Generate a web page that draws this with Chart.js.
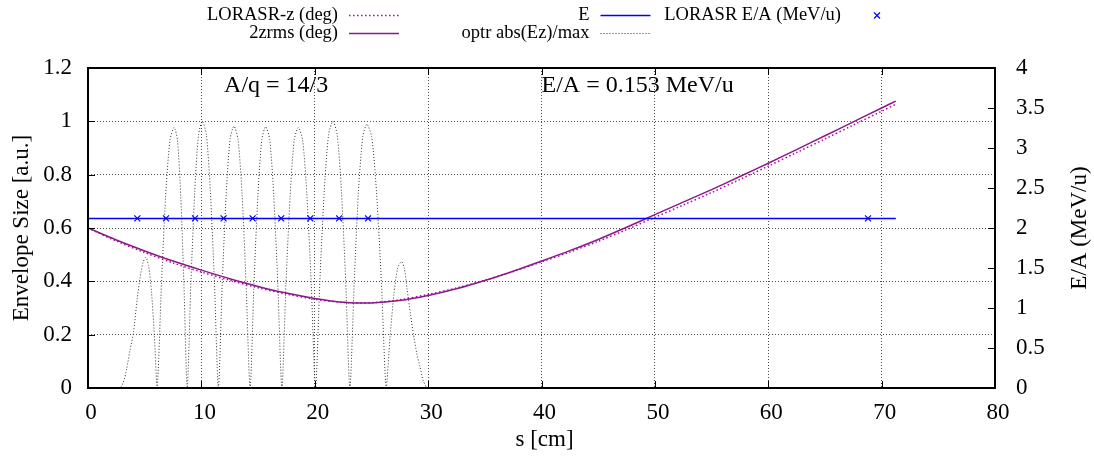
<!DOCTYPE html>
<html>
<head>
<meta charset="utf-8">
<script src="https://cdn.jsdelivr.net/npm/chart.js@4/dist/chart.umd.min.js"></script>
<style>
  html, body { margin: 0; padding: 0; background: #fff; }
  canvas { display: block; }
</style>
</head>
<body>
<canvas id="envChart" width="1094" height="464"></canvas>
<script>
// Datos
const envS = [0, 2.5, 5, 7.5, 10, 12.5, 15, 17.5, 20, 22.5, 25, 27.5, 30, 32.5, 35, 37.5, 40, 42.5, 45, 47.5, 50, 52.5, 55, 57.5, 60, 62.5, 65, 67.5, 70, 71.25]
const zrms = [0.600, 0.555, 0.514, 0.476, 0.442, 0.410, 0.381, 0.356, 0.336, 0.322, 0.319, 0.328, 0.347, 0.372, 0.403, 0.438, 0.476, 0.515, 0.557, 0.603, 0.650, 0.697, 0.744, 0.793, 0.843, 0.894, 0.946, 0.998, 1.050, 1.076]
const lorasrZ = [0.600, 0.551, 0.508, 0.469, 0.435, 0.404, 0.376, 0.352, 0.333, 0.321, 0.320, 0.331, 0.351, 0.375, 0.404, 0.437, 0.473, 0.510, 0.550, 0.594, 0.640, 0.686, 0.733, 0.782, 0.832, 0.883, 0.934, 0.986, 1.038, 1.064]

const eS = [0, 71.25]
const eVal = [2.12, 2.12]

const crossS = [4.35, 6.88, 9.44, 11.96, 14.52, 17.04, 19.6, 22.15, 24.7, 68.8]
const crossVal = [2.12, 2.12, 2.12, 2.12, 2.12, 2.12, 2.12, 2.12, 2.12, 2.12]

const fieldS = [0, 2.8, 3.1, 3.4, 3.7, 4.0, 4.33, 4.6, 4.85, 5.09, 5.34, 5.6, 5.85, 6.1,
  6.48, 6.85, 7.23, 7.6, 7.89, 8.18, 8.46, 8.75,
  9.08, 9.42, 9.75, 10.08, 10.44, 10.79, 11.15, 11.5,
  11.84, 12.19, 12.53, 12.87, 13.23, 13.59, 13.94, 14.3,
  14.64, 14.99, 15.33, 15.67, 16.03, 16.38, 16.74, 17.1,
  17.46, 17.83, 18.19, 18.55, 18.93, 19.31, 19.69, 20.07,
  20.45, 20.84, 21.22, 21.6, 21.98, 22.35, 22.73, 23.1,
  23.48, 23.85, 24.23, 24.6, 25.03, 25.45, 25.88, 26.3,
  26.64, 26.98, 27.32, 27.66, 27.9, 28.15, 28.45, 28.69, 29.0, 29.28, 29.55, 29.86]
const fieldVal = [0, 0, 0.02, 0.07, 0.14, 0.205, 0.33, 0.415, 0.47, 0.49, 0.46, 0.36, 0.2, 0,
  0.39, 0.72, 0.93, 0.977, 0.93, 0.72, 0.39, 0,
  0.40, 0.74, 0.95, 1.0, 0.95, 0.74, 0.40, 0,
  0.393, 0.727, 0.933, 0.982, 0.933, 0.727, 0.393, 0,
  0.392, 0.725, 0.931, 0.98, 0.931, 0.725, 0.392, 0,
  0.39, 0.72, 0.93, 0.977, 0.93, 0.72, 0.39, 0,
  0.40, 0.74, 0.95, 1.0, 0.95, 0.74, 0.40, 0,
  0.396, 0.733, 0.94, 0.99, 0.94, 0.733, 0.396, 0,
  0.19, 0.35, 0.45, 0.474, 0.45, 0.37, 0.275, 0.205, 0.13, 0.08, 0.03, 0]

const xTicks = [0, 10, 20, 30, 40, 50, 60, 70, 80]
const leftTicks = [0, 0.2, 0.4, 0.6, 0.8, 1, 1.2]
const rightTicks = [0, 0.5, 1, 1.5, 2, 2.5, 3, 3.5, 4]

const textLabels = [
  { text: 'A/q = 14/3', s: 12, v: 1.135 },
  { text: 'E/A = 0.153 MeV/u', s: 40, v: 1.135 },
]

// Utilidades
const FONT = "'Liberation Serif', 'DejaVu Serif', serif"
const toXY = (xs, ys) => xs.map((x, i) => ({ x, y: ys[i] }))

// Plugin: marco, ticks hacia dentro, titulos, etiquetas y leyenda estilo gnuplot
const gnuplotLook = {
  id: 'gnuplotLook',
  afterDraw(chart) {
    const { ctx, chartArea: a, scales } = chart
    ctx.save()

    // ticks hacia dentro
    ctx.strokeStyle = '#000'
    ctx.lineWidth = 1
    const tl = 7
    ctx.beginPath()
    xTicks.forEach((v) => {
      const px = Math.round(scales.x.getPixelForValue(v)) + 0.5
      ctx.moveTo(px, a.bottom); ctx.lineTo(px, a.bottom - tl)
      ctx.moveTo(px, a.top); ctx.lineTo(px, a.top + tl)
    })
    leftTicks.forEach((v) => {
      const py = Math.round(scales.y.getPixelForValue(v)) + 0.5
      ctx.moveTo(a.left, py); ctx.lineTo(a.left + tl, py)
    })
    rightTicks.forEach((v) => {
      const py = Math.round(scales.y2.getPixelForValue(v)) + 0.5
      ctx.moveTo(a.right, py); ctx.lineTo(a.right - tl, py)
    })
    ctx.stroke()

    // marco
    ctx.lineWidth = 2
    ctx.strokeRect(Math.round(a.left), Math.round(a.top),
      Math.round(a.right - a.left), Math.round(a.bottom - a.top))

    // titulos de ejes
    ctx.fillStyle = '#000'
    ctx.font = '23px ' + FONT
    ctx.textAlign = 'center'
    ctx.textBaseline = 'middle'
    ctx.fillText('s [cm]', (a.left + a.right) / 2 + 3, 440)

    ctx.save()
    ctx.translate(22, (a.top + a.bottom) / 2)
    ctx.rotate(-Math.PI / 2)
    ctx.fillText('Envelope Size [a.u.]', 0, 0)
    ctx.restore()

    ctx.save()
    ctx.translate(1080, (a.top + a.bottom) / 2)
    ctx.rotate(-Math.PI / 2)
    ctx.fillText('E/A (MeV/u)', 0, 0)
    ctx.restore()

    // etiquetas dentro del grafico
    ctx.font = '24px ' + FONT
    ctx.textAlign = 'left'
    textLabels.forEach((l) => {
      ctx.fillText(l.text, scales.x.getPixelForValue(l.s), scales.y.getPixelForValue(l.v))
    })

    // leyenda (2 filas, por columnas)
    ctx.font = '18.5px ' + FONT
    ctx.textAlign = 'right'
    chart.data.datasets.forEach((ds, i) => {
      const col = Math.floor(i / 2)
      const row = i % 2
      const tx = 338 + col * 251.5
      const ty = 15 + row * 18.3
      ctx.fillStyle = '#000'
      ctx.fillText(ds.label, tx, ty)
      const y = Math.round(ty) + 0.5
      if (ds.showLine === false) {
        const cx = tx + 36
        const r = 3
        ctx.strokeStyle = ds.borderColor
        ctx.lineWidth = 1.2
        ctx.setLineDash([])
        ctx.beginPath()
        ctx.moveTo(cx - r, y - r); ctx.lineTo(cx + r, y + r)
        ctx.moveTo(cx - r, y + r); ctx.lineTo(cx + r, y - r)
        ctx.stroke()
      } else {
        ctx.strokeStyle = ds.borderColor
        ctx.lineWidth = ds.borderWidth
        ctx.setLineDash(ds.borderDash || [])
        ctx.beginPath()
        ctx.moveTo(tx + 11, y); ctx.lineTo(tx + 61, y)
        ctx.stroke()
      }
    })

    ctx.restore()
  },
}

const gridStyle = { color: 'rgba(0,0,0,0.7)', lineWidth: 1, drawTicks: false }

new Chart(document.getElementById('envChart'), {
  type: 'scatter',
  data: {
    datasets: [
      {
        label: 'LORASR-z (deg)',
        data: toXY(envS, lorasrZ),
        yAxisID: 'y',
        showLine: true,
        borderColor: '#b000b0',
        borderWidth: 1.5,
        borderDash: [1.5, 2.5],
        pointRadius: 0,
        tension: 0.3,
        order: 3,
      },
      {
        label: '2zrms (deg)',
        data: toXY(envS, zrms),
        yAxisID: 'y',
        showLine: true,
        borderColor: '#8a1a8a',
        borderWidth: 1.5,
        pointRadius: 0,
        tension: 0.3,
        order: 2,
      },
      {
        label: 'E',
        data: toXY(eS, eVal),
        yAxisID: 'y2',
        showLine: true,
        borderColor: '#0000ff',
        borderWidth: 1.5,
        pointRadius: 0,
        order: 1,
      },
      {
        label: 'optr abs(Ez)/max',
        data: toXY(fieldS, fieldVal),
        yAxisID: 'y',
        showLine: true,
        borderColor: '#333333',
        borderWidth: 1,
        borderDash: [1, 2],
        pointRadius: 0,
        tension: 0.25,
        order: 4,
      },
      {
        label: 'LORASR E/A (MeV/u)',
        data: toXY(crossS, crossVal),
        yAxisID: 'y2',
        showLine: false,
        borderColor: '#0000ff',
        backgroundColor: '#0000ff',
        pointStyle: 'crossRot',
        pointRadius: 4.2,
        borderWidth: 1.2,
        order: 0,
      },
    ],
  },
  options: {
    responsive: false,
    animation: false,
    devicePixelRatio: 1,
    layout: { padding: { top: 68, left: 0, right: 0, bottom: 0 } },
    plugins: { legend: { display: false }, tooltip: { enabled: false } },
    scales: {
      x: {
        type: 'linear',
        min: 0,
        max: 80,
        afterBuildTicks: (s) => { s.ticks = xTicks.map((v) => ({ value: v })) },
        afterFit: (s) => { s.height = 76 },
        ticks: { font: { family: FONT, size: 23 }, color: '#000', padding: 11, labelOffset: 3, maxRotation: 0, callback: (v) => String(v) },
        grid: gridStyle,
        border: { display: false, dash: [1, 2] },
      },
      y: {
        type: 'linear',
        position: 'left',
        min: 0,
        max: 1.2,
        afterBuildTicks: (s) => { s.ticks = leftTicks.map((v) => ({ value: v })) },
        afterFit: (s) => { s.width = 88 },
        ticks: { font: { family: FONT, size: 23 }, color: '#000', padding: 16, callback: (v) => String(v) },
        grid: gridStyle,
        border: { display: false, dash: [1, 2] },
      },
      y2: {
        type: 'linear',
        position: 'right',
        min: 0,
        max: 4,
        afterBuildTicks: (s) => { s.ticks = rightTicks.map((v) => ({ value: v })) },
        afterFit: (s) => { s.width = 99 },
        ticks: { font: { family: FONT, size: 23 }, color: '#000', padding: 21, callback: (v) => String(v) },
        grid: { display: false, drawTicks: false },
        border: { display: false },
      },
    },
  },
  plugins: [gnuplotLook],
})
</script>
</body>
</html>
